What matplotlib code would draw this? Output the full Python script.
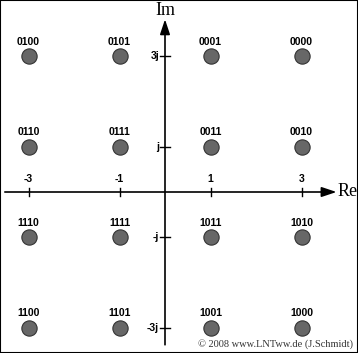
import matplotlib.pyplot as plt
import numpy as np

# 16-QAM constellation
re_vals = [-3, -1, 1, 3]
im_vals = [3, 1, -1, -3]
bits = [["0100", "0101", "0001", "0000"],
        ["0110", "0111", "0011", "0010"],
        ["1110", "1111", "1011", "1010"],
        ["1100", "1101", "1001", "1000"]]
xtick_labels = ["-3", "-1", "1", "3"]
ytick_labels = ["3j", "j", "-j", "-3j"]

fig = plt.figure(figsize=(3.58, 3.53), dpi=100)
ax = fig.add_axes([0, 0, 1, 1])
ax.set_xlim(-165 / 45.5, (358 - 165) / 45.5)
ax.set_ylim((192 - 353) / 45.2, 192 / 45.2)
ax.set_xticks([])
ax.set_yticks([])
for s in ax.spines.values():
    s.set_color('black')
    s.set_linewidth(1.5)

# axes with arrows
ax.annotate('', xy=(3.77, 0), xytext=(-3.52, 0),
            arrowprops=dict(arrowstyle='-|>,head_length=0.9,head_width=0.3',
                            color='black', lw=1.2, shrinkA=0, shrinkB=0))
ax.annotate('', xy=(0, 3.82), xytext=(0, -3.38),
            arrowprops=dict(arrowstyle='-|>,head_length=0.9,head_width=0.3',
                            color='black', lw=1.2, shrinkA=0, shrinkB=0))
ax.text(3.79, 0, 'Re', family='Liberation Serif', fontsize=13,
        ha='left', va='center')
ax.text(0, 4.02, 'Im', family='Liberation Serif', fontsize=13,
        ha='center', va='center')

tf = dict(family='Liberation Sans', fontsize=7.5, fontweight='bold')
for x, lab in zip(re_vals, xtick_labels):
    ax.plot([x, x], [-0.09, 0.09], color='black', lw=1)
    ax.text(x, 0.28, lab, ha='center', va='center', **tf)
for y, lab in zip(im_vals, ytick_labels):
    ax.plot([-0.1, 0.1], [y, y], color='black', lw=1)
    ax.text(-0.13, y, lab, ha='right', va='center', **tf)

X, Y = np.meshgrid(re_vals, im_vals)
ax.plot(X.ravel(), Y.ravel(), 'o', ms=11, mfc='#676767', mec='#333333', mew=0.8)
for i, y in enumerate(im_vals):
    for j, x in enumerate(re_vals):
        ax.annotate(bits[i][j], (x, y), xytext=(0, 10.5), textcoords='offset points',
                    ha='center', va='center', **tf)

ax.text(0.985, 0.025, '\u00a9 2008 www.LNTww.de (J.Schmidt)', transform=ax.transAxes,
        family='Liberation Serif', fontsize=7.5, color='#333333', ha='right', va='center')

fig.savefig('out.png', dpi=100)
